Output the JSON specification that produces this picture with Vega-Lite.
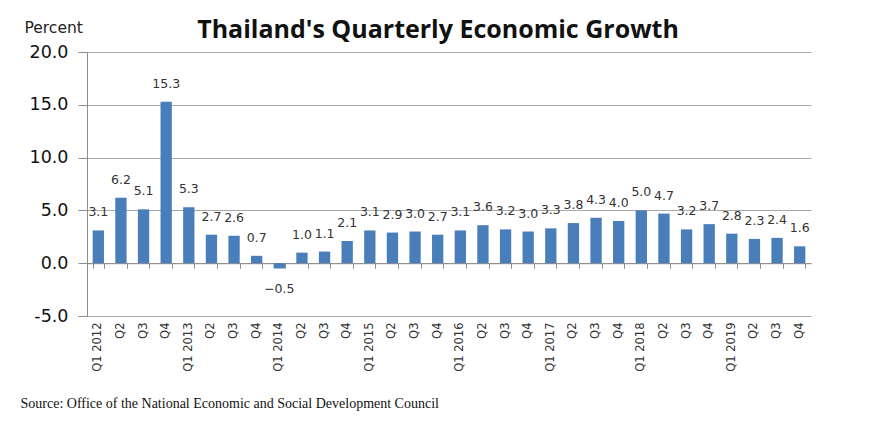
{
  "$schema": "https://vega.github.io/schema/vega-lite/v6.json",
  "autosize": "none",
  "width": 724,
  "height": 264,
  "padding": {"left": 87, "top": 52, "right": 72, "bottom": 107},
  "background": "white",
  "title": {
    "text": "Thailand's Quarterly Economic Growth",
    "font": "Open Sans",
    "fontSize": 25,
    "fontWeight": "bold",
    "color": "#111111",
    "anchor": "middle",
    "baseline": "alphabetic",
    "dx": -11,
    "offset": -43
  },
  "config": {
    "view": {"stroke": null},
    "axis": {"labelFont": "DejaVu Sans", "titleFont": "DejaVu Sans"}
  },
  "data": {
    "values": [
      {"q": "Q1 2012", "v": 3.1}, {"q": "Q2 ", "v": 6.2}, {"q": "Q3 ", "v": 5.1}, {"q": "Q4 ", "v": 15.3},
      {"q": "Q1 2013", "v": 5.3}, {"q": "Q2  ", "v": 2.7}, {"q": "Q3  ", "v": 2.6}, {"q": "Q4  ", "v": 0.7},
      {"q": "Q1 2014", "v": -0.5}, {"q": "Q2   ", "v": 1.0}, {"q": "Q3   ", "v": 1.1}, {"q": "Q4   ", "v": 2.1},
      {"q": "Q1 2015", "v": 3.1}, {"q": "Q2    ", "v": 2.9}, {"q": "Q3    ", "v": 3.0}, {"q": "Q4    ", "v": 2.7},
      {"q": "Q1 2016", "v": 3.1}, {"q": "Q2     ", "v": 3.6}, {"q": "Q3     ", "v": 3.2}, {"q": "Q4     ", "v": 3.0},
      {"q": "Q1 2017", "v": 3.3}, {"q": "Q2      ", "v": 3.8}, {"q": "Q3      ", "v": 4.3}, {"q": "Q4      ", "v": 4.0},
      {"q": "Q1 2018", "v": 5.0}, {"q": "Q2       ", "v": 4.7}, {"q": "Q3       ", "v": 3.2}, {"q": "Q4       ", "v": 3.7},
      {"q": "Q1 2019", "v": 2.8}, {"q": "Q2        ", "v": 2.3}, {"q": "Q3        ", "v": 2.4}, {"q": "Q4        ", "v": 1.6}
    ]
  },
  "encoding": {
    "x": {
      "field": "q",
      "type": "nominal",
      "sort": null,
      "scale": {"paddingInner": 0.5, "paddingOuter": 0.25}
    },
    "y": {
      "field": "v",
      "type": "quantitative",
      "scale": {"domain": [-5, 20], "nice": false, "zero": false},
      "axis": {
        "values": [-5, 0, 5, 10, 15, 20],
        "labelExpr": "(datum.value < 0 ? '-' : '') + format(abs(datum.value), '.1f')",
        "title": "Percent",
        "titleAngle": 0,
        "titleAlign": "left",
        "titleBaseline": "alphabetic",
        "titleX": -63,
        "titleY": -20,
        "titleFontSize": 15.5,
        "titleFontWeight": "normal",
        "titleColor": "#222222",
        "labelFontSize": 17.5,
        "labelColor": "#111111",
        "labelPadding": 10,
        "tickSize": 9,
        "tickColor": "#8c8c8c",
        "domainColor": "#8c8c8c",
        "grid": true,
        "gridColor": "#a9a9a9"
      }
    }
  },
  "layer": [
    {
      "mark": {"type": "bar", "color": "#4A7EBB"},
      "encoding": {
        "x": {
          "field": "q",
          "type": "nominal",
          "sort": null,
          "axis": {
            "orient": "bottom",
            "labelAngle": -90,
            "labelAlign": "right",
            "labelBaseline": "middle",
            "labelFontSize": 11.5,
            "labelColor": "#333333",
            "labelPadding": 6,
            "ticks": false,
            "domain": false,
            "title": "Source: Office of the National Economic and Social Development Council",
            "titleFont": "Liberation Serif",
            "titleFontSize": 14,
            "titleFontWeight": "normal",
            "titleColor": "#111111",
            "titleAnchor": "start",
            "titleAlign": "left",
            "titleBaseline": "alphabetic",
            "titleX": -67,
            "titleY": 91
          }
        }
      }
    },
    {
      "transform": [{"filter": "datum.v >= 0"}],
      "mark": {"type": "text", "baseline": "alphabetic", "dy": -14, "font": "DejaVu Sans", "fontSize": 12.5, "color": "#333333"},
      "encoding": {
        "text": {"field": "v", "type": "quantitative", "format": ".1f"},
        "x": {
          "field": "q",
          "type": "nominal",
          "sort": null,
          "axis": {
            "orient": "bottom",
            "offset": -52.8,
            "labels": false,
            "title": null,
            "tickBand": "extent",
            "tickSize": 5,
            "tickColor": "#8c8c8c",
            "domainColor": "#8c8c8c"
          }
        }
      }
    },
    {
      "transform": [{"filter": "datum.v < 0"}],
      "mark": {"type": "text", "baseline": "top", "dy": 15, "font": "DejaVu Sans", "fontSize": 12.5, "color": "#333333"},
      "encoding": {
        "text": {"field": "v", "type": "quantitative", "format": ".1f"},
        "x": {"field": "q", "type": "nominal", "sort": null, "axis": null}
      }
    }
  ],
  "resolve": {"axis": {"x": "independent"}}
}
